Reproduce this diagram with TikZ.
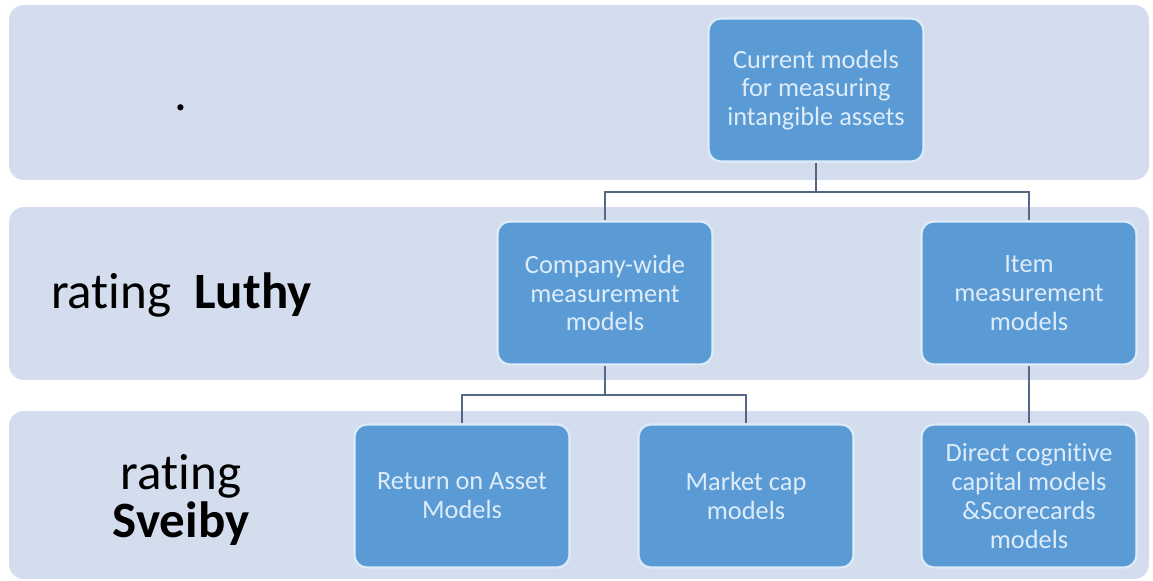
\documentclass[tikz,border=0pt]{standalone}
\usepackage{fontspec}
\setmainfont{Carlito}[Ligatures=NoCommon]
\definecolor{bandfill}{RGB}{211,221,238}
\definecolor{boxfill}{RGB}{91,155,213}
\definecolor{boxedge}{RGB}{222,236,250}
\definecolor{linkcol}{RGB}{84,104,134}
\begin{document}
\begin{tikzpicture}[x=0.02cm,y=-0.02cm,
        band/.style={fill=bandfill,draw=none,rounded corners=0.3cm},
        model/.style={draw=boxedge,line width=1.2pt,fill=boxfill,rounded corners=0.25cm,
            minimum width=4.3cm,minimum height=2.86cm,inner sep=0pt,align=center,
            text=boxedge,font=\fontsize{15}{16.4}\selectfont},
        link/.style={draw=linkcol,line width=1.3pt},
        rating/.style={font=\fontsize{29}{27}\selectfont,text=black}]
    \useasboundingbox (0,0) rectangle (1153,581);
    \fill[band] (9,5) rectangle (1149,180);
    \fill[band] (9,207) rectangle (1149,380);
    \fill[band] (9,411) rectangle (1149,579);
    \node[rating] (dot) at (181,108) {.};
    \node[rating,anchor=base west] (luthy) at (45,308) {rating\ \ \textbf{Luthy}};
    \node[rating,anchor=base,align=center] (sveiby) at (181,537) {rating\\\textbf{Sveiby}};
    \node[model] (current) at (816,90) {Current models\\for measuring\\intangible assets};
    \node[model] (cwide) at (605,293) {Company-wide\\measurement\\models};
    \node[model] (item) at (1029,293) {Item\\measurement\\models};
    \node[model] (roa) at (462,496) {Return on Asset\\Models};
    \node[model] (mcap) at (746,496) {Market cap\\models};
    \node[model] (dcc) at (1029,496) {Direct cognitive\\capital models\\\&Scorecards\\models};
    \coordinate (j1) at (current.south |- 0,192);
    \coordinate (j2) at (cwide.south |- 0,395);
    \draw[link] (current.south) -- (j1) -| (cwide.north);
    \draw[link] (j1) -| (item.north);
    \draw[link] (cwide.south) -- (j2) -| (roa.north);
    \draw[link] (j2) -| (mcap.north);
    \draw[link] (item.south) -- (dcc.north);
\end{tikzpicture}
\end{document}
